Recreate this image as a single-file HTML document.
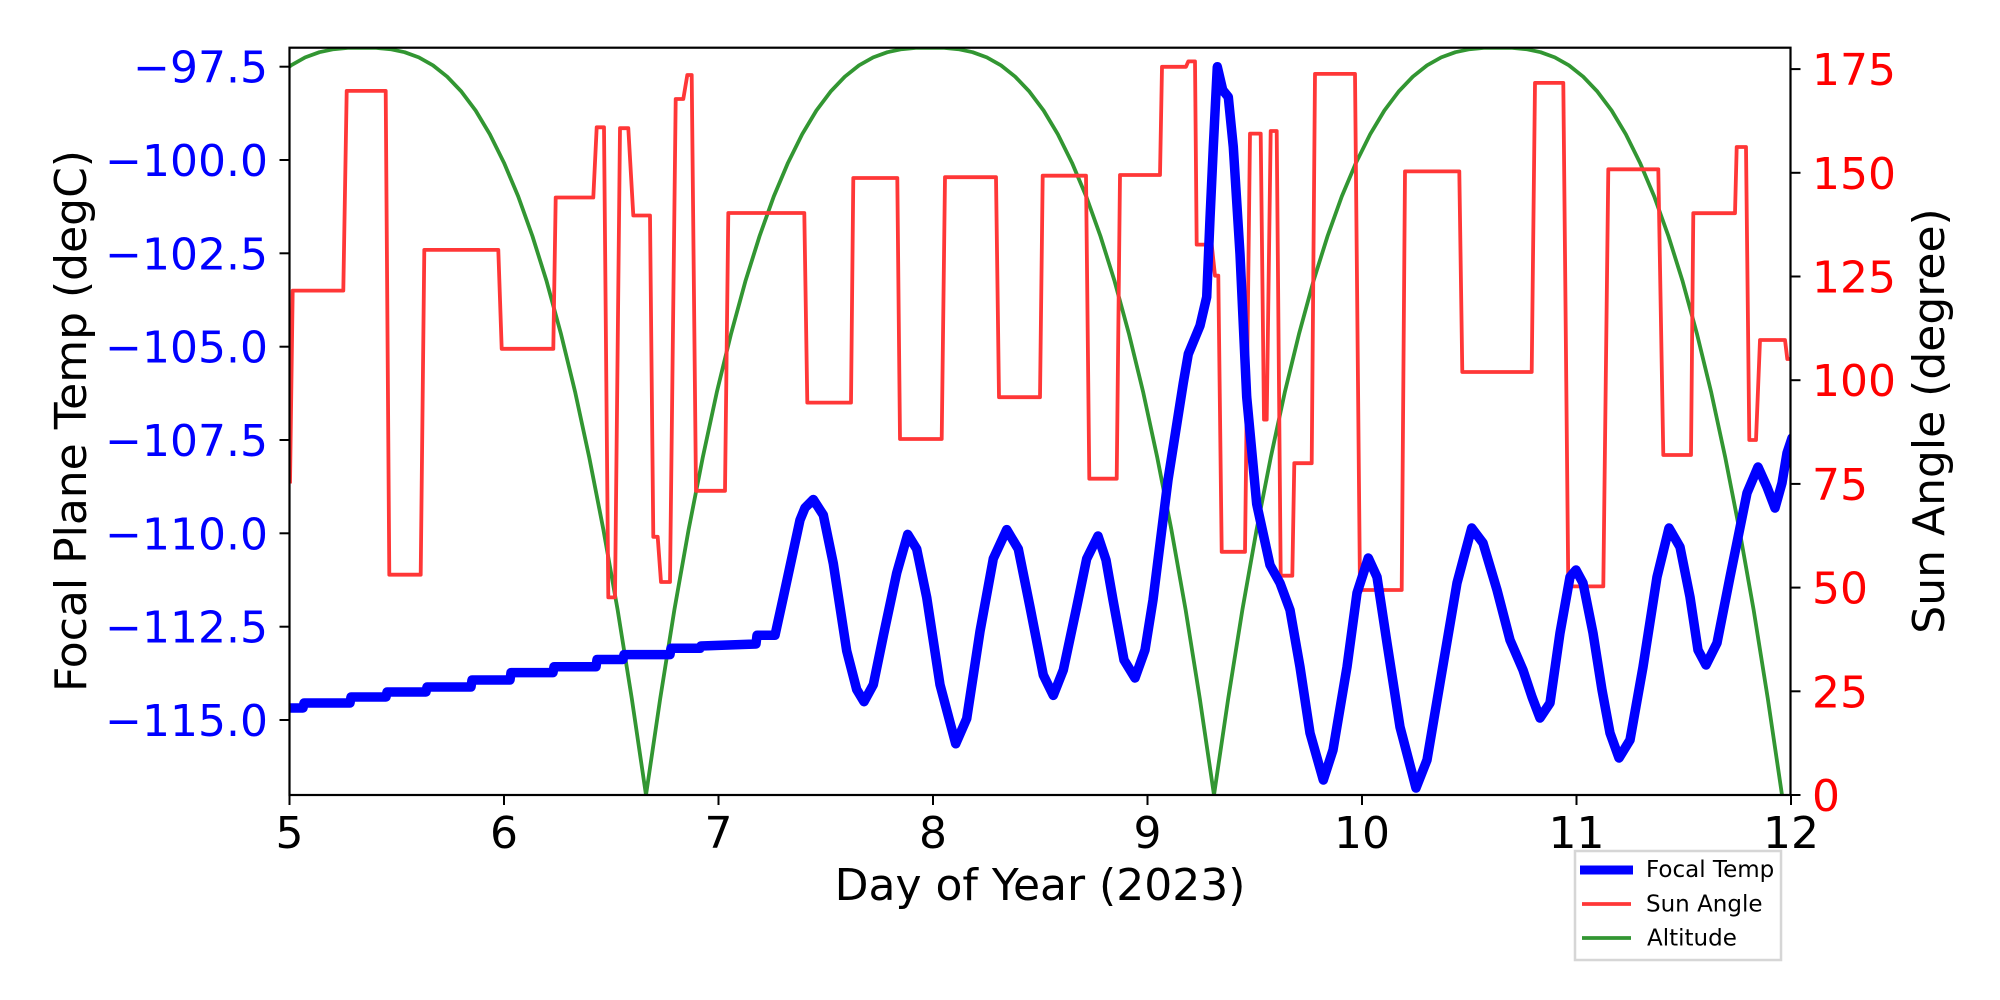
<!DOCTYPE html>
<html><head><meta charset="utf-8"><style>
html,body{margin:0;padding:0;background:#fff;}
svg{display:block;}
text{font-family:"DejaVu Sans","Liberation Sans",sans-serif;}
</style></head><body>
<svg width="2000" height="1000" viewBox="0 0 2000 1000" xmlns="http://www.w3.org/2000/svg">
<defs>
<clipPath id="pa"><rect x="289.5" y="47.7" width="1501" height="747.3"/></clipPath>
<polyline id="arc" fill="none" stroke="rgb(50,150,50)" stroke-width="3.8" stroke-linejoin="round" points="-284,795 -269.8,698.6 -255.6,609.7 -241.4,529.7 -227.2,457.2 -213,391.4 -198.8,333.2 -184.6,281.2 -170.4,236 -156.2,196.4 -142,162.8 -127.8,134.2 -113.6,110.5 -99.4,91.6 -85.2,76.7 -71,65.4 -56.8,57.4 -42.6,52.2 -28.4,49.2 -14.2,47.9 0,47.7 14.2,47.9 28.4,49.2 42.6,52.2 56.8,57.4 71,65.4 85.2,76.7 99.4,91.6 113.6,110.5 127.8,134.2 142,162.8 156.2,196.4 170.4,236 184.6,281.2 198.8,333.2 213,391.4 227.2,457.2 241.4,529.7 255.6,609.7 269.8,698.6 284,795"/>
</defs>
<g clip-path="url(#pa)">
<use href="#arc" transform="translate(362,0)"/>
<use href="#arc" transform="translate(930,0)"/>
<use href="#arc" transform="translate(1498,0)"/>
<polyline fill="none" stroke="rgb(255,55,55)" stroke-width="3.8" stroke-linejoin="round" points="290,483.5 292.7,290.6 343.3,290.6 346.7,90.9 385.7,90.9 389.3,574.7 420.7,574.7 424.3,249.9 498.3,249.9 501.7,348.8 553.3,348.8 555.7,197.5 593.3,197.5 596.7,127.3 604,127.3 608.3,597.4 615,597.4 620,128.2 628.3,128.2 633.3,215.5 650,215.5 653.3,536.8 657.7,536.8 661,582 670,582 675.7,99 683.3,99 687.3,75 691.7,75 696,490.8 725,490.8 728.3,213 804.3,213 807.3,402.6 851,402.6 853.3,178 897.3,178 900,439 941.7,439 945,177.2 996,177.2 999,397.2 1040,397.2 1042.7,175.7 1086,175.7 1089.3,478.7 1116.7,478.7 1120,175 1160,175 1162,66.8 1186,66.8 1188.3,61.4 1195,61.4 1196.7,244.6 1211.7,244.6 1215,275.7 1218.3,275.7 1221.7,551.8 1245,551.8 1250,133.6 1260.7,133.6 1264,419.6 1266.7,419.6 1270.7,131 1276.7,131 1280.7,575.7 1292.3,575.7 1294.3,463.2 1311.7,463.2 1315,73.9 1355,73.9 1360,590 1401.7,590 1405,171.4 1459.3,171.4 1462.3,372 1531.7,372 1535,82.9 1563.3,82.9 1568.3,586.4 1603.3,586.4 1608.3,169.3 1658.3,169.3 1663.3,455 1691,455 1693.3,213.2 1735,213.2 1736.7,147 1746,147 1749.3,440 1756,440 1760,340 1785,340 1787.3,359 1792,359"/>
<polyline fill="none" stroke="#0000ff" stroke-width="9.5" stroke-linejoin="round" stroke-linecap="round" points="290,708 303,708 304,703 350,703 351,697 386,697 387,692 426,692 427,687 471,687 472,680 510,680 511,672.6 553,672.6 554,666.8 596,666.8 597,659.5 623,659.5 624,654.6 670,654.6 671,648.3 700,648.3 701,646 756,644 757,635.3 775,635.3 783.3,597.4 800,520 805,507.8 813.3,499.5 823.3,515 833.3,563.5 846.7,650.8 856.7,689.5 864,701.7 873.3,684.7 883.3,636 896.7,573 907.7,534.4 916.7,549 926.7,597.4 940,684.7 955.7,743.8 966.7,718.6 980,631.4 993.3,558.7 1006.7,529.6 1018.3,549 1030,607 1043.3,675 1053.3,695.4 1063.3,670 1076.7,607 1086.7,558.7 1098,536 1106,560 1113,600 1124,660 1135,678 1145,650 1153,600 1168,480 1183.3,382.9 1188.3,354 1200,325.7 1206.7,297 1210,218.6 1213.3,147 1217.3,66.8 1222.7,90 1228.3,97 1233.3,147 1240,254 1246.7,397 1256.7,504 1270,565 1280,583 1290,610 1300,667 1310,733 1323.3,780 1333,750 1347,667 1357,593 1368.3,558 1377,577 1387,643 1400,727 1416,788 1427,760 1440,683 1457,583 1471.7,528 1483,543 1497,590 1510,640 1523,670 1532,697 1540,718 1550,703 1560,633 1570,577 1576,570 1583,583 1593,633 1602,690 1610,733 1619,758 1630,740 1643,667 1657,577 1669,528 1680,547 1690,597 1698,650 1706,665 1717,643 1730,577 1747,493 1758,467 1767,487 1775,508 1782,483 1787,453 1792,438"/>
</g>
<rect x="289.5" y="47.7" width="1501" height="747.3" fill="none" stroke="#000" stroke-width="2.2"/>
<g stroke="#000" stroke-width="2">
<line x1="279.5" x2="289.5" y1="66.7" y2="66.7"/><line x1="279.5" x2="289.5" y1="160" y2="160"/><line x1="279.5" x2="289.5" y1="253.3" y2="253.3"/><line x1="279.5" x2="289.5" y1="346.7" y2="346.7"/><line x1="279.5" x2="289.5" y1="440" y2="440"/><line x1="279.5" x2="289.5" y1="533.3" y2="533.3"/><line x1="279.5" x2="289.5" y1="626.7" y2="626.7"/><line x1="279.5" x2="289.5" y1="720" y2="720"/>
<line x1="1790.5" x2="1800.5" y1="69.1" y2="69.1"/><line x1="1790.5" x2="1800.5" y1="172.8" y2="172.8"/><line x1="1790.5" x2="1800.5" y1="276.5" y2="276.5"/><line x1="1790.5" x2="1800.5" y1="380.2" y2="380.2"/><line x1="1790.5" x2="1800.5" y1="483.9" y2="483.9"/><line x1="1790.5" x2="1800.5" y1="587.6" y2="587.6"/><line x1="1790.5" x2="1800.5" y1="691.3" y2="691.3"/><line x1="1790.5" x2="1800.5" y1="795" y2="795"/>
<line y1="795" y2="805" x1="289.5" x2="289.5"/><line y1="795" y2="805" x1="504" x2="504"/><line y1="795" y2="805" x1="718.5" x2="718.5"/><line y1="795" y2="805" x1="933" x2="933"/><line y1="795" y2="805" x1="1147.5" x2="1147.5"/><line y1="795" y2="805" x1="1362" x2="1362"/><line y1="795" y2="805" x1="1576.5" x2="1576.5"/><line y1="795" y2="805" x1="1791" x2="1791"/>
</g>
<g fill="#0000ff" font-size="44" text-anchor="end">
<text x="268" y="82.5">−97.5</text><text x="268" y="176">−100.0</text><text x="268" y="269.3">−102.5</text><text x="268" y="362.7">−105.0</text><text x="268" y="456">−107.5</text><text x="268" y="549.3">−110.0</text><text x="268" y="642.7">−112.5</text><text x="268" y="736">−115.0</text>
</g>
<g fill="#ff0000" font-size="44">
<text x="1812" y="85">175</text><text x="1812" y="188.8">150</text><text x="1812" y="292.5">125</text><text x="1812" y="396.2">100</text><text x="1812" y="499.9">75</text><text x="1812" y="603.6">50</text><text x="1812" y="707.3">25</text><text x="1812" y="811">0</text>
</g>
<g fill="#000" font-size="44" text-anchor="middle">
<text x="289.5" y="848">5</text><text x="504" y="848">6</text><text x="718.5" y="848">7</text><text x="933" y="848">8</text><text x="1147.5" y="848">9</text><text x="1362" y="848">10</text><text x="1576.5" y="848">11</text><text x="1791" y="848">12</text>
<text x="1040" y="900">Day of Year (2023)</text>
<text transform="translate(86,421) rotate(-90)">Focal Plane Temp (degC)</text>
<text transform="translate(1944,421) rotate(-90)">Sun Angle (degree)</text>
</g>
<rect x="1575" y="851" width="206" height="109" fill="#fff" stroke="#d6d6d6" stroke-width="2.5"/>
<line x1="1580" x2="1633" y1="870" y2="870" stroke="#0000ff" stroke-width="9"/>
<line x1="1582" x2="1631" y1="904" y2="904" stroke="rgb(255,55,55)" stroke-width="3.8"/>
<line x1="1582" x2="1631" y1="938" y2="938" stroke="rgb(50,150,50)" stroke-width="3.8"/>
<g fill="#000" font-size="23">
<text x="1646" y="877">Focal Temp</text><text x="1646" y="911.5">Sun Angle</text><text x="1647" y="945.5">Altitude</text>
</g>
</svg>
</body></html>
